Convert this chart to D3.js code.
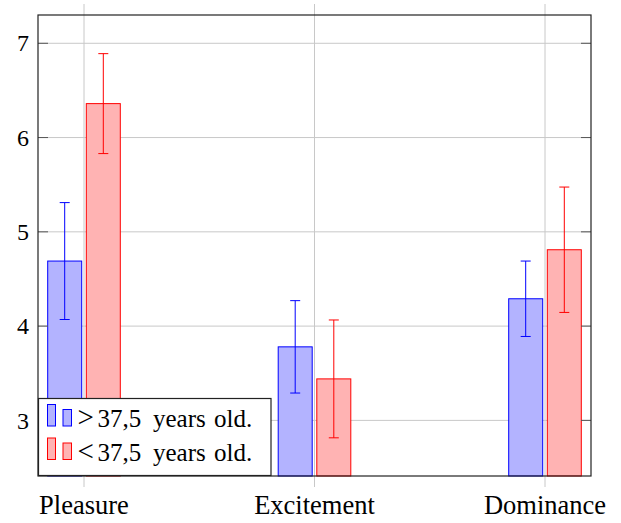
<!DOCTYPE html>
<html>
<head>
<meta charset="utf-8">
<script src="https://cdn.jsdelivr.net/npm/d3@7"></script>
<style>
  html, body { margin: 0; padding: 0; background: #fff; }
</style>
</head>
<body>
<svg id="chart" width="621" height="523"></svg>
<script>
const categories = ["Pleasure", "Excitement", "Dominance"];
const seriesNames = [">37,5 years old.", "<37,5 years old."];
const olderMeans = [4.69, 3.78, 4.29];
const olderErr = [0.62, 0.49, 0.40];
const youngerMeans = [6.36, 3.44, 4.81];
const youngerErr = [0.53, 0.625, 0.665];
const yTicks = [3, 4, 5, 6, 7];

const FONT = '"Liberation Serif"';

const series = [
  { name: seriesNames[0], means: olderMeans, errs: olderErr, fill: "#b3b3ff", stroke: "#0000ff", offset: -19.3 },
  { name: seriesNames[1], means: youngerMeans, errs: youngerErr, fill: "#ffb3b3", stroke: "#ff0000", offset: 19.3 }
];

const svg = d3.select("#chart");
const L = 38, R = 591, T = 15, B = 476;
const x = d3.scalePoint().domain(categories).range([84, 545]);
const y = d3.scaleLinear().domain([2.41, 7.30]).range([B, T]);
const barW = 34;

// vertical grid lines (extending past frame)
svg.append("g").selectAll("line").data(categories).join("line")
  .attr("x1", d => x(d)).attr("x2", d => x(d))
  .attr("y1", 4).attr("y2", 487)
  .attr("stroke", "#c8c8c8").attr("stroke-width", 1);

// horizontal grid lines
svg.append("g").selectAll("line").data(yTicks).join("line")
  .attr("x1", L).attr("x2", R)
  .attr("y1", d => y(d)).attr("y2", d => y(d))
  .attr("stroke", "#c8c8c8").attr("stroke-width", 1);

// bars
series.forEach(s => {
  const g = svg.append("g");
  g.selectAll("rect").data(categories).join("rect")
    .attr("x", d => x(d) + s.offset - barW / 2)
    .attr("width", barW)
    .attr("y", (d, i) => y(s.means[i]))
    .attr("height", (d, i) => B - y(s.means[i]))
    .attr("fill", s.fill).attr("stroke", s.stroke).attr("stroke-width", 1);
  const eg = svg.append("g").attr("stroke", s.stroke).attr("stroke-width", 1);
  categories.forEach((c, i) => {
    const cx = x(c) + s.offset;
    const top = y(s.means[i] + s.errs[i]);
    const bot = y(s.means[i] - s.errs[i]);
    eg.append("line").attr("x1", cx).attr("x2", cx).attr("y1", top).attr("y2", bot);
    eg.append("line").attr("x1", cx - 5).attr("x2", cx + 5).attr("y1", top).attr("y2", top);
    eg.append("line").attr("x1", cx - 5).attr("x2", cx + 5).attr("y1", bot).attr("y2", bot);
  });
});

// y ticks (left and right, inside)
const tg = svg.append("g").attr("stroke", "#555").attr("stroke-width", 1);
yTicks.forEach(t => {
  tg.append("line").attr("x1", L).attr("x2", L + 10).attr("y1", y(t)).attr("y2", y(t));
  tg.append("line").attr("x1", R - 10).attr("x2", R).attr("y1", y(t)).attr("y2", y(t));
});

// frame
svg.append("rect").attr("x", L).attr("y", T).attr("width", R - L).attr("height", B - T)
  .attr("fill", "none").attr("stroke", "#222").attr("stroke-width", 1.2);

// y tick labels
svg.append("g").selectAll("text").data(yTicks).join("text")
  .attr("x", 29).attr("y", d => y(d) + 8.2)
  .attr("text-anchor", "end").attr("font-size", 24).style("font-family", FONT)
  .text(d => d);

// x labels
svg.append("g").selectAll("text").data(categories).join("text")
  .attr("x", d => x(d)).attr("y", 514)
  .attr("text-anchor", "middle").attr("font-size", 26.5).style("font-family", FONT)
  .text(d => d);

// legend
const lg = svg.append("g");
lg.append("rect").attr("x", 38.5).attr("y", 398.5).attr("width", 232.5).attr("height", 77)
  .attr("fill", "#fff").attr("stroke", "#222").attr("stroke-width", 1.2);
const partX = [77.5, 97.5, 153, 214];
series.forEach((s, i) => {
  const base = 427 + i * 33.5;
  lg.append("rect").attr("x", 47.5).attr("y", base - 22.5).attr("width", 8).attr("height", 21.5)
    .attr("fill", s.fill).attr("stroke", s.stroke).attr("stroke-width", 1);
  lg.append("rect").attr("x", 63).attr("y", base - 17.5).attr("width", 8.5).attr("height", 16.5)
    .attr("fill", s.fill).attr("stroke", s.stroke).attr("stroke-width", 1);
  const parts = [s.name.slice(0, 1), ...s.name.slice(1).split(" ")];
  const t = lg.append("text").attr("y", base).attr("font-size", 25).style("font-family", FONT);
  parts.forEach((p, k) => {
    const ts = t.append("tspan").attr("x", partX[k]).text(p);
    if (k === 0) ts.attr("font-size", 29);
  });
});
</script>
</body>
</html>
